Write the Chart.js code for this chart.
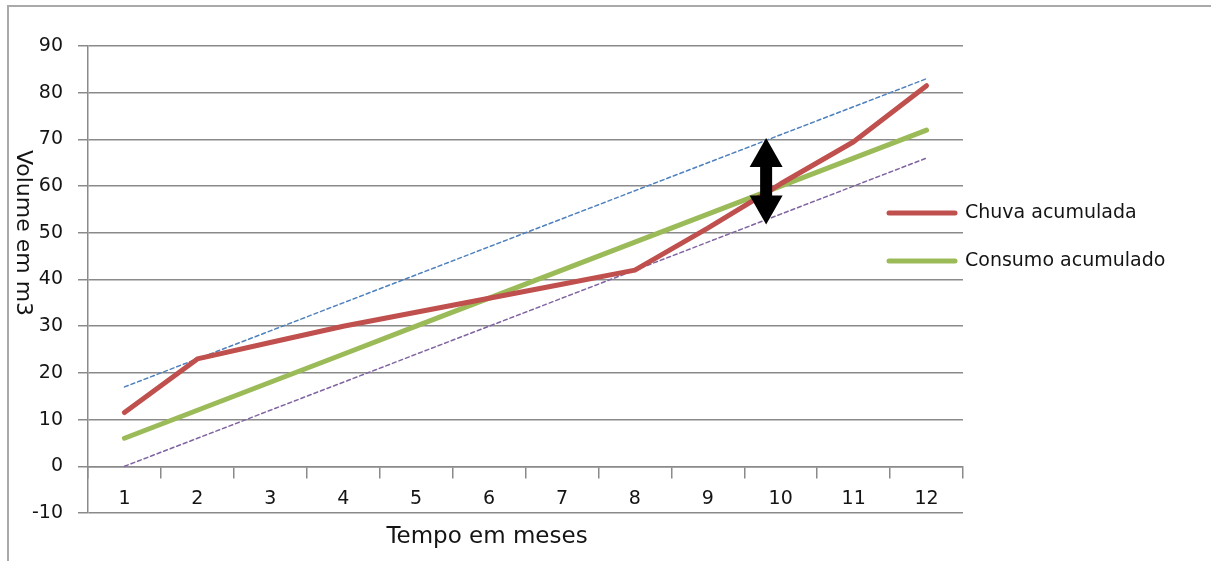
<!DOCTYPE html>
<html>
<head>
<meta charset="utf-8">
<script src="https://cdn.jsdelivr.net/npm/chart.js@4.4.1/dist/chart.umd.min.js"></script>
<style>
  body { margin: 0; background: #fff; overflow: hidden; }
  #wrap { position: relative; width: 1211px; height: 561px; }
  #frame { position: absolute; left: 7px; top: 5px; right: -10px; bottom: -10px;
           border-left: 2px solid #a9a9a9; border-top: 2px solid #a9a9a9; }
  canvas { position: absolute; left: 0; top: 0; }
</style>
</head>
<body>
<div id="wrap">
  <div id="frame"></div>
  <canvas id="chart" width="1211" height="561"></canvas>
</div>
<script>
// Data
const months = ["1", "2", "3", "4", "5", "6", "7", "8", "9", "10", "11", "12"];
const chuva = [11.5, 23, 26.5, 30, 33, 36, 39, 42, 51, 60.5, 69.5, 81.5];
const consumo = [6, 12, 18, 24, 30, 36, 42, 48, 54, 60, 66, 72];
const limiteSup = [17, 23, 29, 35, 41, 47, 53, 59, 65, 71, 77, 83];
const limiteInf = [0, 6, 12, 18, 24, 30, 36, 42, 48, 54, 60, 66];
// double arrow between 9 and 10: x index, y from / to
const seta = { x: 8.8, y0: 51.8, y1: 70.3 };

const textColor = "#141414";
const gridColor = "#8a8a8a";
const font = "DejaVu Sans";

// axis titles, legend and the arrow
const extras = {
    id: "extras",
    afterDatasetsDraw(chart) {
        const ctx = chart.ctx;
        const x = chart.scales.x, y = chart.scales.y;

        // arrow
        const cx = x.getPixelForValue(seta.x);
        const top = y.getPixelForValue(seta.y1);
        const bot = y.getPixelForValue(seta.y0);
        const hw = 16.5, sw = 6, hl = 29;
        ctx.save();
        ctx.fillStyle = "#000";
        ctx.beginPath();
        ctx.moveTo(cx, top);
        ctx.lineTo(cx + hw, top + hl);
        ctx.lineTo(cx + sw, top + hl);
        ctx.lineTo(cx + sw, bot - hl);
        ctx.lineTo(cx + hw, bot - hl);
        ctx.lineTo(cx, bot);
        ctx.lineTo(cx - hw, bot - hl);
        ctx.lineTo(cx - sw, bot - hl);
        ctx.lineTo(cx - sw, top + hl);
        ctx.lineTo(cx - hw, top + hl);
        ctx.closePath();
        ctx.fill();
        ctx.restore();

        // legend (overlaps the plot, as in the original)
        ctx.save();
        ctx.font = "19px '" + font + "'";
        ctx.textBaseline = "middle";
        ctx.fillStyle = textColor;
        const items = chart.data.datasets.filter(d => d.inLegend);
        items.forEach((d, i) => {
            const ly = 213 + i * 48;
            ctx.strokeStyle = d.borderColor;
            ctx.lineWidth = d.borderWidth;
            ctx.lineCap = "round";
            ctx.beginPath();
            ctx.moveTo(889, ly);
            ctx.lineTo(955, ly);
            ctx.stroke();
            ctx.fillText(d.label, 965, ly);
        });
        ctx.restore();

        // axis titles
        ctx.save();
        ctx.fillStyle = textColor;
        ctx.textAlign = "center";
        ctx.textBaseline = "middle";
        ctx.font = "23px '" + font + "'";
        ctx.fillText("Tempo em meses", 487, 537);
        ctx.translate(23, 233);
        ctx.rotate(Math.PI / 2);
        ctx.font = "22px '" + font + "'";
        ctx.fillText("Volume em m3", 0, 0);
        ctx.restore();
    }
};

new Chart(document.getElementById("chart").getContext("2d"), {
    type: "line",
    data: {
        labels: months,
        datasets: [
            {
                label: "Chuva acumulada",
                data: chuva,
                borderColor: "#C0504D",
                borderWidth: 5,
                inLegend: true,
            },
            {
                label: "Consumo acumulado",
                data: consumo,
                borderColor: "#9BBB59",
                borderWidth: 5,
                inLegend: true,
            },
            {
                label: "Limite superior",
                data: limiteSup,
                borderColor: "#4F81BD",
                borderWidth: 1.5,
                borderDash: [4, 3],
            },
            {
                label: "Limite inferior",
                data: limiteInf,
                borderColor: "#8064A2",
                borderWidth: 1.5,
                borderDash: [4, 3],
            },
        ],
    },
    options: {
        responsive: false,
        animation: false,
        devicePixelRatio: 1,
        layout: { padding: { left: 8, top: 46, right: 248, bottom: 48 } },
        elements: {
            point: { radius: 0 },
            line: { tension: 0, borderCapStyle: "round", borderJoinStyle: "round" },
        },
        plugins: {
            legend: { display: false },
            tooltip: { enabled: false },
        },
        scales: {
            x: {
                type: "category",
                position: { y: 0 },
                offset: true,
                grid: {
                    drawOnChartArea: false,
                    drawTicks: true,
                    offset: true,
                    tickLength: 11,
                    color: gridColor,
                    lineWidth: 1.5,
                },
                border: { display: true, color: gridColor, width: 1.5 },
                ticks: {
                    color: textColor,
                    padding: 10,
                    maxRotation: 0,
                    font: { family: font, size: 19 },
                },
            },
            y: {
                min: -10,
                max: 90,
                afterFit(s) { s.width = 80; },
                grid: {
                    color: gridColor,
                    lineWidth: 1.5,
                    tickLength: 10,
                },
                border: { display: true, color: gridColor, width: 1.5 },
                ticks: {
                    stepSize: 10,
                    color: textColor,
                    padding: 15,
                    font: { family: font, size: 19 },
                },
            },
        },
    },
    plugins: [extras],
});
</script>
</body>
</html>
